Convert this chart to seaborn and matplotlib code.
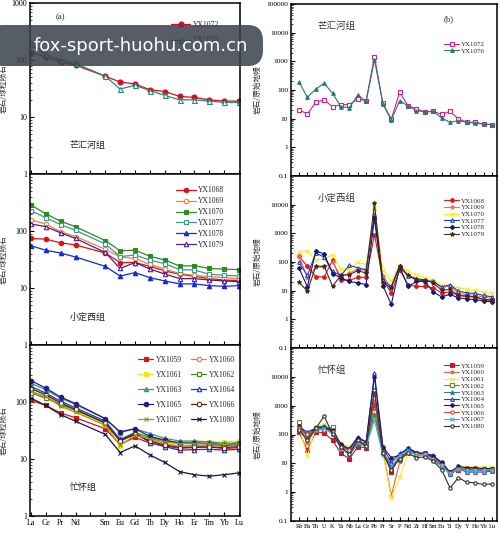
import matplotlib
matplotlib.use("Agg")
import matplotlib.pyplot as plt
import seaborn as sns
import numpy as np
import pandas as pd
from matplotlib.patches import FancyBboxPatch
from matplotlib.ticker import FixedLocator, LogLocator, NullFormatter, FuncFormatter

# ---------------- data ----------------
ree_labels = ["La", "Ce", "Pr", "Nd", "", "Sm", "Eu", "Gd", "Tb", "Dy", "Ho", "Er", "Tm", "Yb", "Lu"]
ree_pos = [0, 1, 2, 3, 5, 6, 7, 8, 9, 10, 11, 12, 13, 14]
spider_labels = ["Rb", "Ba", "Th", "U", "K", "Ta", "Nb", "La", "Ce", "Pb", "Pr", "Sr", "P", "Nd",
                 "Zr", "Hf", "Sm", "Eu", "Ti", "Dy", "Y", "Ho", "Yb", "Lu"]

# (a) 芒汇河组 REE
ree_YX1072 = [135, 113, 93, 81, 52, 41, 38, 30, 28, 23, 22, 20, 19, 19]
ree_YX1076 = [194, 125, 102, 87, 52, 31, 36, 29, 24, 20, 20, 19, 18, 18]

# 小定西组 REE
ree_YX1068 = [74, 72, 62, 57, 41, 28, 28, 24, 20, 17.4, 16, 14.6, 13.8, 13.5]
ree_YX1069 = [156, 133, 97, 80, 48, 35, 33, 26, 21.5, 18, 16.7, 15.8, 15.2, 14.4]
ree_YX1070 = [286, 201, 148, 119, 68, 45, 46, 36, 31, 24.3, 24.6, 22, 21.5, 21]
ree_YX1077 = [227, 171, 129, 103, 59, 35.5, 38, 31, 26.7, 21, 20.7, 17.4, 16.7, 16.2]
ree_YX1078 = [55, 46, 41, 35, 24, 16.2, 18.6, 15.2, 13.3, 11.8, 11.8, 11, 10.7, 11]
ree_YX1079 = [133, 119, 93, 74, 42, 22, 28, 21.5, 17.6, 14.6, 14.6, 13.8, 13.3, 12.9]

# 忙怀组 REE
ree_YX1059 = [107, 87, 64, 53, 34, 18, 24, 19, 17, 15.4, 15.9, 16.3, 15.2, 15.9]
ree_YX1060 = [153, 125, 90, 72, 40, 22, 28, 22, 18.6, 17, 17.4, 17.4, 17, 17.4]
ree_YX1061 = [153, 122, 87, 70, 40, 17, 27, 23, 20.7, 20, 20, 20, 20, 20.7]
ree_YX1062 = [144, 117, 90, 72, 43, 20.7, 29, 24, 21, 19.4, 19.4, 18.8, 18.4, 18.8]
ree_YX1063 = [214, 164, 117, 90, 51, 29, 34, 28, 23, 20.7, 20.7, 19.9, 18.8, 19.4]
ree_YX1064 = [187, 143, 103, 79, 46, 22, 29, 19.4, 16.5, 14.3, 14.6, 14.8, 14.3, 14.8]
ree_YX1065 = [238, 175, 122, 94, 51, 30, 34, 25, 21.5, 18.8, 18.8, 18.6, 17.4, 18.4]
ree_YX1066 = [171, 134, 96, 74, 43, 20.7, 27, 20.7, 17.6, 15.9, 16.3, 16.3, 15.9, 16.5]
ree_YX1067 = [153, 125, 84, 66, 39, 17.4, 26, 22.7, 20, 18.6, 18.6, 18.4, 18, 18.4]
ree_YX1080 = [117, 87, 60, 46, 27, 13, 17, 11.8, 8.7, 6, 5.3, 5.0, 5.3, 5.7]

# (b) 芒汇河组 spider
sp_YX1072 = [20.6, 14.5, 37, 45, 26, 31, 31, 49, 42, 1455, 34, 9.7, 83, 28, 22, 17, 18, 14, 18, 9.7, 7.5, 7.5, 6.5, 6.2]
sp_YX1076 = [195, 55, 108, 171, 77, 26, 24, 67, 40, 1113, 32.5, 9, 42, 28, 19, 17.5, 18, 10.5, 7.5, 8.5, 7.5, 7, 6.5, 6.2]

# 小定西组 spider
sp_YX1068 = [157, 71, 31, 30, 114, 23, 23, 29, 29, 887, 26, 8, 54, 16, 14, 14, 12.5, 8.4, 8.9, 6.8, 6.4, 6.1, 4.9, 4.6]
sp_YX1069 = [166, 28, 67, 65, 97, 32, 41, 57, 51, 6530, 32, 12.5, 71, 34, 24, 21, 21, 12.5, 15, 8, 7.4, 6.8, 6, 5.3]
sp_YX1070 = [216, 247, 120, 127, 180, 57, 57, 97, 81, 7460, 54, 21, 81, 47, 34, 28, 24, 16, 15, 12.5, 11, 10.4, 8.9, 8]
sp_YX1077 = [97, 34, 205, 149, 47, 34, 77, 62, 54, 4370, 23, 14, 71, 32, 24, 22.5, 21, 13.6, 16, 9.6, 8.4, 8, 6.8, 6.1]
sp_YX1078 = [62, 13.6, 234, 195, 39, 28, 21, 18.7, 16.4, 3360, 15, 3.3, 67, 14, 21, 21, 8.9, 6.1, 7.4, 5.6, 5.2, 4.9, 4.3, 4.1]
sp_YX1079 = [19.7, 9.6, 71, 71, 14.3, 34, 36, 50, 41, 11100, 18.7, 12.5, 75, 34, 26, 24, 18.7, 10.4, 11, 6.8, 6.4, 6, 4.9, 4.7]

# 忙怀组 spider
sp_YX1059 = [124, 28, 124, 114, 63, 22, 14.5, 37, 35, 1055, 25, 5, 19, 22, 19, 19, 14.5, 8.5, 5, 6, 6, 5.7, 5.7, 6]
sp_YX1060 = [242, 49, 175, 195, 149, 37, 28, 55, 42, 2690, 28, 0.75, 11, 25, 19, 19, 15.8, 9.2, 4.4, 7.5, 6.5, 6.5, 6.5, 6.5]
sp_YX1061 = [185, 17.5, 195, 229, 162, 48, 39, 63, 48, 413, 22, 0.62, 3.3, 22, 19, 19, 14.5, 8.5, 3.8, 7.9, 7.5, 7.5, 7.5, 7.5]
sp_YX1062 = [276, 73, 162, 162, 175, 39, 28, 63, 46, 617, 25, 8.5, 14.5, 28, 22, 22, 16.6, 9.2, 4.6, 6.5, 6.5, 6.5, 6.5, 6.5]
sp_YX1063 = [195, 83, 185, 195, 108, 37, 19, 48, 39, 510, 22, 9.2, 12.7, 28, 22, 22, 15.8, 7.9, 4.4, 6.5, 6, 6, 5.7, 5.7]
sp_YX1064 = [175, 124, 162, 185, 124, 39, 32, 83, 55, 13400, 37, 10.3, 22, 32, 23, 22, 19, 10.3, 4.1, 6.5, 5, 5, 5, 5.4]
sp_YX1065 = [195, 103, 162, 175, 142, 46, 32, 73, 55, 10200, 37, 15.8, 19, 35, 23.5, 22, 17.5, 11, 5, 7.9, 7.1, 7.1, 6.5, 6.5]
sp_YX1066 = [162, 108, 142, 149, 124, 37, 28, 55, 46, 1800, 25, 6.5, 16.6, 25, 20.6, 20.6, 14.5, 8.5, 4.6, 6.5, 6, 6, 6, 6]
sp_YX1067 = [142, 63, 149, 162, 103, 32, 22, 55, 39, 316, 19, 7.5, 19, 28, 19, 19, 12.7, 7.9, 4.4, 6.5, 5.4, 5.4, 5.4, 5.7]
sp_YX1080 = [149, 63, 162, 436, 103, 37, 20.6, 63, 39, 3520, 22, 6, 14.5, 22, 15.8, 16.6, 12, 6, 1.4, 3.2, 2.2, 2.1, 1.85, 1.95]

# ---------------- style ----------------
sns.set_theme(style="white")
plt.rcParams['font.family'] = ['Liberation Serif', 'Noto Sans CJK SC', 'DejaVu Sans']
plt.rcParams['mathtext.fontset'] = 'stix'

fig = plt.figure(figsize=(5, 5.33), dpi=100)

def px_axes(x0, x1, ytop, ybot):
    W, H = 500.0, 533.0
    return fig.add_axes([x0 / W, 1 - ybot / H, (x1 - x0) / W, (ybot - ytop) / H])

axL = [px_axes(30, 240, 3, 174), px_axes(30, 240, 174, 345), px_axes(30, 240, 345, 516)]
axR = [px_axes(291, 497, 4, 176), px_axes(291, 497, 176, 348), px_axes(291, 497, 348, 521)]

def plain(v, pos):
    if v >= 1:
        return "%d" % int(round(v))
    return "%g" % v

def series(ax, x, y, name, color, marker, filled=True, ms=3.2, lw=0.9, mew=0.8):
    sns.lineplot(x=x, y=y, ax=ax, color=color, marker=marker, markersize=ms,
                 markerfacecolor=color if filled else "white", markeredgecolor=color,
                 markeredgewidth=mew, linewidth=lw, label=name, sort=False)

def style_axis(ax, ylo, yhi, yt, xlim, xt, xlabels, ylabel, ylabx, showx):
    ax.set_yscale("log")
    ax.set_ylim(ylo, yhi)
    ax.set_xlim(*xlim)
    ax.yaxis.set_major_locator(FixedLocator(yt))
    ax.yaxis.set_major_formatter(FuncFormatter(plain))
    ax.yaxis.set_minor_locator(LogLocator(base=10, subs=np.arange(2, 10), numticks=20))
    ax.yaxis.set_minor_formatter(NullFormatter())
    ax.set_xticks(xt)
    if showx:
        ax.set_xticklabels(xlabels)
    else:
        ax.set_xticklabels([""] * len(xt))
    ax.tick_params(axis="both", which="major", direction="in", length=3, width=0.8,
                   labelsize=5.8, pad=2, colors="black")
    ax.tick_params(axis="y", which="minor", direction="in", length=1.6, width=0.6, left=True)
    ax.tick_params(axis="x", which="both", bottom=True, top=False)
    ax.tick_params(axis="y", which="both", left=True, right=False)
    for s in ax.spines.values():
        s.set_color("black")
        s.set_linewidth(1.1)
    ax.set_xlabel("")
    ax.set_ylabel(ylabel, fontsize=5.5, family=['Noto Sans CJK SC'], color="#333333")
    ax.yaxis.set_label_coords(ylabx, 0.5)
    ax.grid(False)
    ax.set_facecolor("white")

# ---------- left column: REE ----------
a0, a1, a2 = axL
series(a0, ree_pos, ree_YX1072, "YX1072", "#d01020", "o", True, ms=3.6)
series(a0, ree_pos, ree_YX1076, "YX1076", "#2a8a80", "^", False, ms=3.6)

series(a1, ree_pos, ree_YX1068, "YX1068", "#e01010", "o", True)
series(a1, ree_pos, ree_YX1069, "YX1069", "#f08040", "o", False)
series(a1, ree_pos, ree_YX1070, "YX1070", "#2e8b1e", "s", True)
series(a1, ree_pos, ree_YX1077, "YX1077", "#3a9a8a", "s", False)
series(a1, ree_pos, ree_YX1078, "YX1078", "#1428d8", "^", True)
series(a1, ree_pos, ree_YX1079, "YX1079", "#4a1c90", "^", False)

series(a2, ree_pos, ree_YX1059, "YX1059", "#e01010", "s", True)
series(a2, ree_pos, ree_YX1060, "YX1060", "#f07838", "o", False)
series(a2, ree_pos, ree_YX1061, "YX1061", "#e8e820", "s", True)
series(a2, ree_pos, ree_YX1062, "YX1062", "#4a8a1a", "s", False)
series(a2, ree_pos, ree_YX1063, "YX1063", "#3a9a80", "^", True)
series(a2, ree_pos, ree_YX1064, "YX1064", "#1a30e0", "^", False)
series(a2, ree_pos, ree_YX1065, "YX1065", "#2a1a88", "o", True)
series(a2, ree_pos, ree_YX1066, "YX1066", "#5a2010", "o", False)
series(a2, ree_pos, ree_YX1067, "YX1067", "#9a9a18", "x", True)
series(a2, ree_pos, ree_YX1080, "YX1080", "#101848", "x", True)

ree_ticks = list(range(15))
for i, ax in enumerate(axL):
    yt = [1, 10, 100, 1000] if i == 0 else [1, 10, 100]
    style_axis(ax, 1, 1000, yt, (-0.06, 14.06), ree_ticks, ree_labels,
               "岩石/球粒陨石", -0.105, i == 2)

# legends left
h, l = a0.get_legend_handles_labels()
a0.legend(h, l, loc="upper left", bbox_to_anchor=(0.655, 0.915), frameon=False,
          fontsize=5.5, handlelength=2.6, labelspacing=1.0, handletextpad=0.3, borderaxespad=0)
h, l = a1.get_legend_handles_labels()
a1.legend(h, l, loc="upper left", bbox_to_anchor=(0.68, 0.945), frameon=False,
          fontsize=5.5, handlelength=2.6, labelspacing=0.38, handletextpad=0.3, borderaxespad=0)
h, l = a2.get_legend_handles_labels()
order = [0, 2, 4, 6, 8, 1, 3, 5, 7, 9]
a2.legend([h[k] for k in order], [l[k] for k in order], loc="upper left", ncol=2,
          bbox_to_anchor=(0.5, 0.955), frameon=False, fontsize=5.5, handlelength=2.0,
          labelspacing=0.92, handletextpad=0.3, columnspacing=1.2, borderaxespad=0)

a0.text(0.12, 0.915, "(a)", transform=a0.transAxes, fontsize=6.2, ha="left", va="center")
a0.text(0.19, 0.165, "芒汇河组", transform=a0.transAxes, fontsize=6.5, ha="left", va="center",
        family=['Noto Sans CJK SC'], color="#222222")
a1.text(0.19, 0.165, "小定西组", transform=a1.transAxes, fontsize=6.5, ha="left", va="center",
        family=['Noto Sans CJK SC'], color="#222222")
a2.text(0.19, 0.165, "忙怀组", transform=a2.transAxes, fontsize=6.5, ha="left", va="center",
        family=['Noto Sans CJK SC'], color="#222222")

# ---------- right column: spider ----------
b0, b1, b2 = axR
sx = list(range(len(spider_labels)))
series(b0, sx, sp_YX1072, "YX1072", "#d0208a", "s", False, ms=2.6, lw=0.8)
series(b0, sx, sp_YX1076, "YX1076", "#2a7a70", "^", True, ms=2.6, lw=0.8)

series(b1, sx, sp_YX1068, "YX1068", "#e01818", "o", True, ms=2.6, lw=0.8)
series(b1, sx, sp_YX1069, "YX1069", "#f07050", "*", True, ms=2.8, lw=0.8)
series(b1, sx, sp_YX1070, "YX1070", "#f0f020", "x", True, ms=2.8, lw=0.8)
series(b1, sx, sp_YX1077, "YX1077", "#1838d0", "^", False, ms=2.6, lw=0.8)
series(b1, sx, sp_YX1078, "YX1078", "#101878", "D", True, ms=2.2, lw=0.8)
series(b1, sx, sp_YX1079, "YX1079", "#4a2818", "*", True, ms=3.0, lw=0.8)

series(b2, sx, sp_YX1059, "YX1059", "#c81830", "s", True, ms=2.4, lw=0.8)
series(b2, sx, sp_YX1060, "YX1060", "#f06040", "*", True, ms=2.8, lw=0.8)
series(b2, sx, sp_YX1061, "YX1061", "#f0f030", "x", True, ms=2.6, lw=0.8)
series(b2, sx, sp_YX1062, "YX1062", "#6a8a10", "s", False, ms=2.4, lw=0.8)
series(b2, sx, sp_YX1063, "YX1063", "#2a8a7a", "^", True, ms=2.6, lw=0.8)
series(b2, sx, sp_YX1064, "YX1064", "#2030e8", "^", False, ms=2.6, lw=0.8)
series(b2, sx, sp_YX1065, "YX1065", "#201870", "o", True, ms=2.4, lw=0.8)
series(b2, sx, sp_YX1066, "YX1066", "#e04828", "o", False, ms=2.4, lw=0.8)
series(b2, sx, sp_YX1067, "YX1067", "#40b0e0", "x", True, ms=2.6, lw=0.8)
series(b2, sx, sp_YX1080, "YX1080", "#303030", "o", False, ms=2.4, lw=0.8)

for i, ax in enumerate(axR):
    yt = [0.1, 1, 10, 100, 1000, 10000, 100000] if i == 0 else [0.1, 1, 10, 100, 1000, 10000]
    style_axis(ax, 0.1, 100000, yt, (-0.95, 23.6), sx, spider_labels,
               "岩石/原始地幔", -0.14, i == 2)
    ax.tick_params(axis="x", which="major", labelsize=4.6, pad=2)
    ax.tick_params(axis="y", which="major", labelsize=5.3)

for ax, top in [(b0, 0.8), (b1, 0.89), (b2, 0.93)]:
    h, l = ax.get_legend_handles_labels()
    ax.legend(h, l, loc="upper left", bbox_to_anchor=(0.73, top), frameon=False,
              fontsize=5.0, handlelength=2.2, labelspacing=0.12, handletextpad=0.25,
              borderaxespad=0)

b0.text(0.74, 0.91, "(b)", transform=b0.transAxes, fontsize=6.2, ha="left", va="center")
b0.text(0.13, 0.87, "芒汇河组", transform=b0.transAxes, fontsize=6.8, ha="left", va="center",
        family=['Noto Sans CJK SC'], color="#333333")
b1.text(0.13, 0.87, "小定西组", transform=b1.transAxes, fontsize=6.8, ha="left", va="center",
        family=['Noto Sans CJK SC'], color="#333333")
b2.text(0.13, 0.87, "忙怀组", transform=b2.transAxes, fontsize=6.8, ha="left", va="center",
        family=['Noto Sans CJK SC'], color="#333333")

# ---------- watermark overlay ----------
W, H = 500.0, 533.0
box = FancyBboxPatch((-12 / W, 1 - 66 / H), 275 / W, 41 / H,
                     boxstyle="round,pad=0,rounding_size=0.03",
                     transform=fig.transFigure, facecolor="#3a424e", edgecolor="none",
                     alpha=0.86, zorder=20)
fig.patches.append(box)
fig.text(34 / W, 1 - 46 / H, "fox-sport-huohu.com.cn", color="white", fontsize=13,
         family=['DejaVu Sans'], ha="left", va="center", zorder=21)

fig.savefig("out.png", dpi=100, facecolor="white")
